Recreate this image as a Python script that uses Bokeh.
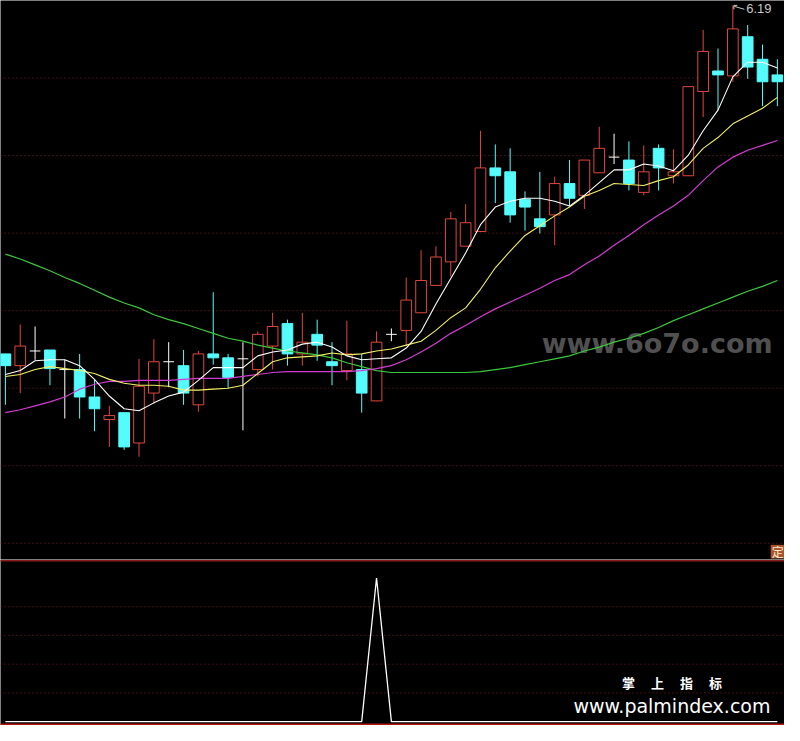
from bokeh.plotting import figure
from bokeh.layouts import column
from bokeh.models import Range1d, Span, ColumnDataSource, Label
from bokeh.core.properties import value
from bokeh.embed import file_html
from bokeh.resources import INLINE

# ---------------- data ----------------
OPEN = [4.41, 4.35, 4.425, 4.43, 4.33, 4.33, 4.19, 4.075, 4.11, 3.955,
        4.21, 4.37, 4.35, 4.15, 4.41, 4.39, 4.385, 4.33, 4.45, 4.565,
        4.41, 4.51, 4.37, 4.325, 4.33, 4.17, 4.51, 4.53, 4.62, 4.76,
        4.88, 4.96, 5.035, 5.36, 5.34, 5.20, 5.10, 5.12, 5.28, 5.22,
        5.335, 5.415, 5.40, 5.235, 5.46, 5.32, 5.32, 5.75, 5.855, 5.83,
        6.03, 5.915, 5.835]
HIGH = [4.41, 4.56, 4.55, 4.43, 4.38, 4.41, 4.28, 4.145, 4.11, 4.385,
        4.485, 4.47, 4.43, 4.425, 4.725, 4.41, 4.47, 4.525, 4.62, 4.585,
        4.62, 4.585, 4.47, 4.58, 4.41, 4.525, 4.54, 4.80, 4.94, 4.96,
        5.135, 5.175, 5.55, 5.48, 5.46, 5.24, 5.34, 5.315, 5.40, 5.40,
        5.57, 5.535, 5.495, 5.475, 5.48, 5.455, 5.775, 6.065, 5.97, 6.19,
        6.09, 5.99, 5.915]
LOW = [4.15, 4.21, 4.38, 4.25, 4.08, 4.08, 4.015, 3.935, 3.92, 3.885,
       4.155, 4.24, 4.15, 4.115, 4.355, 4.235, 4.02, 4.295, 4.33, 4.35,
       4.35, 4.375, 4.25, 4.275, 4.11, 4.17, 4.475, 4.45, 4.62, 4.76,
       4.805, 4.96, 5.035, 5.18, 5.08, 5.04, 5.025, 4.965, 5.165, 5.15,
       5.335, 5.38, 5.245, 5.22, 5.245, 5.28, 5.32, 5.62, 5.655, 5.80,
       5.815, 5.675, 5.675]
CLOSE = [4.35, 4.45, 4.425, 4.335, 4.33, 4.19, 4.13, 4.095, 3.935, 4.245,
         4.37, 4.37, 4.21, 4.41, 4.39, 4.29, 4.385, 4.51, 4.55, 4.41,
         4.47, 4.455, 4.35, 4.41, 4.21, 4.47, 4.51, 4.685, 4.785, 4.905,
         5.10, 5.08, 5.36, 5.32, 5.12, 5.16, 5.06, 5.28, 5.205, 5.40,
         5.46, 5.415, 5.28, 5.34, 5.36, 5.34, 5.775, 5.955, 5.835, 6.07,
         5.875, 5.80, 5.80]

MA5 = [4.305, 4.325, 4.375, 4.38, 4.38, 4.35, 4.28, 4.195, 4.13, 4.12,
       4.16, 4.195, 4.215, 4.275, 4.34, 4.34, 4.34, 4.40, 4.42, 4.43,
       4.46, 4.47, 4.445, 4.40, 4.38, 4.385, 4.39, 4.44, 4.525, 4.665,
       4.795, 4.925, 5.07, 5.16, 5.19, 5.205, 5.205, 5.19, 5.165, 5.22,
       5.285, 5.35, 5.35, 5.38, 5.37, 5.345, 5.425, 5.55, 5.655, 5.825,
       5.90, 5.90, 5.87]
MA10 = [4.295, 4.305, 4.33, 4.345, 4.335, 4.325, 4.31, 4.28, 4.26, 4.25,
        4.25, 4.245, 4.225, 4.225, 4.23, 4.235, 4.25, 4.31, 4.37, 4.39,
        4.395, 4.40, 4.415, 4.405, 4.41, 4.425, 4.435, 4.455, 4.475, 4.53,
        4.595, 4.645, 4.74, 4.85, 4.935, 5.015, 5.065, 5.115, 5.16, 5.215,
        5.245, 5.28, 5.275, 5.27, 5.295, 5.315, 5.375, 5.46, 5.515, 5.585,
        5.625, 5.665, 5.72]
MA20 = [4.11, 4.125, 4.145, 4.165, 4.19, 4.23, 4.255, 4.27, 4.27, 4.275,
        4.275, 4.275, 4.28, 4.285, 4.285, 4.285, 4.295, 4.305, 4.315, 4.32,
        4.32, 4.32, 4.32, 4.32, 4.325, 4.335, 4.35, 4.38, 4.42, 4.465,
        4.515, 4.555, 4.60, 4.64, 4.675, 4.71, 4.745, 4.785, 4.815, 4.865,
        4.91, 4.965, 5.015, 5.07, 5.12, 5.165, 5.22, 5.295, 5.365, 5.415,
        5.45, 5.475, 5.50]
MA60 = [4.92, 4.895, 4.865, 4.835, 4.80, 4.77, 4.735, 4.70, 4.67, 4.645,
        4.61, 4.585, 4.565, 4.54, 4.515, 4.49, 4.475, 4.455, 4.44, 4.425,
        4.415, 4.405, 4.39, 4.365, 4.345, 4.325, 4.315, 4.315, 4.315, 4.315,
        4.315, 4.315, 4.32, 4.33, 4.34, 4.355, 4.37, 4.385, 4.40, 4.425,
        4.445, 4.47, 4.49, 4.515, 4.545, 4.58, 4.61, 4.64, 4.67, 4.70,
        4.73, 4.755, 4.785]
SIGNAL = [0, 0, 0, 0, 0, 0, 0, 0, 0, 0,
          0, 0, 0, 0, 0, 0, 0, 0, 0, 0,
          0, 0, 0, 0, 0, 1, 0, 0, 0, 0,
          0, 0, 0, 0, 0, 0, 0, 0, 0, 0,
          0, 0, 0, 0, 0, 0, 0, 0, 0, 0,
          0, 0, 0]
SIGNAL_GRID = [0.2, 0.4, 0.6, 0.8]

# ---------------- style ----------------
BG = "#000000"
RED = "#E0463C"
CYAN = "#54FCFC"
WHITE = "#FFFFFF"
YELLOW = "#F0F064"
MAGENTA = "#D23CD2"
GREEN = "#3CC83C"
GRIDC = "#7A2020"
BODY_W = 0.72

N = len(CLOSE)
X = list(range(N))
XR = (-0.33, 52.48)
Y_TOP, Y_BOT = 6.215, 3.36
GRID_STEP = 0.396


def make_fig(h, y0, y1):
    f = figure(width=784, height=h, x_range=Range1d(*XR), y_range=Range1d(y0, y1),
               output_backend="svg", toolbar_location=None,
               x_axis_location=None, y_axis_location=None,
               background_fill_color=BG, border_fill_color=BG,
               outline_line_color=None, min_border=0)
    f.xgrid.visible = False
    f.ygrid.visible = False
    return f


# ---------------- main price panel ----------------
p = make_fig(559, Y_BOT, Y_TOP)

for k in range(1, 8):
    p.add_layout(Span(location=Y_TOP - GRID_STEP * k, dimension="width",
                      line_color=GRIDC, line_dash="1 3", line_width=1, level="underlay"))

p.add_layout(Label(x=43.9, y=4.465, text="www.6o7o.com", text_align="center",
                   text_baseline="middle", text_font="DejaVu Sans", text_font_style="bold",
                   text_font_size="27px", text_color="#505050", level="underlay"))


def src(ids):
    return ColumnDataSource(dict(
        x=ids,
        h=[HIGH[i] for i in ids], l=[LOW[i] for i in ids],
        o=[OPEN[i] for i in ids],
        top=[max(OPEN[i], CLOSE[i]) for i in ids],
        bot=[min(OPEN[i], CLOSE[i]) for i in ids],
        xl=[i - BODY_W / 2 for i in ids], xr=[i + BODY_W / 2 for i in ids],
    ))


up = src([i for i in X if CLOSE[i] > OPEN[i]])
dn = src([i for i in X if CLOSE[i] < OPEN[i]])
fl = src([i for i in X if CLOSE[i] == OPEN[i]])

p.segment(x0="x", y0="h", x1="x", y1="l", source=up, line_color=RED, line_width=1)
p.vbar(x="x", width=BODY_W, top="top", bottom="bot", source=up,
       fill_color=BG, line_color=RED, line_width=1)
p.segment(x0="x", y0="h", x1="x", y1="l", source=dn, line_color=CYAN, line_width=1)
p.vbar(x="x", width=BODY_W, top="top", bottom="bot", source=dn,
       fill_color=CYAN, line_color=CYAN, line_width=1)
p.segment(x0="x", y0="h", x1="x", y1="l", source=fl, line_color=WHITE, line_width=1)
p.segment(x0="xl", y0="o", x1="xr", y1="o", source=fl, line_color=WHITE, line_width=1)

p.line(X, MA60, line_color=GREEN, line_width=1.2)
p.line(X, MA20, line_color=MAGENTA, line_width=1.2)
p.line(X, MA10, line_color=YELLOW, line_width=1.1)
p.line(X, MA5, line_color=WHITE, line_width=1.1)

# highest price marker
imax = max(X, key=lambda i: HIGH[i])
hmax = HIGH[imax]
p.line([imax + 0.07, imax + 0.07, imax + 0.3], [hmax - 0.02, hmax, hmax], line_color="#C8C8C8", line_width=1)
p.line([imax + 0.1, imax + 0.78], [hmax - 0.005, hmax - 0.02], line_color="#C8C8C8", line_width=1)
p.text(x=[imax + 0.9], y=[hmax + 0.005], text=["%.2f" % hmax], text_baseline="top",
       text_align="left", text_color="#C8C8C8", text_font_size="13px",
       text_font=value("Liberation Sans"))

# "定" tag at bottom right
p.quad(left=[51.55], right=[52.48], bottom=[3.365], top=[3.435],
       fill_color="#A8552A", line_color=None)
p.text(x=[52.02], y=[3.40], text=["定"], text_align="center", text_baseline="middle",
       text_color="#FFE8D0", text_font_size="12px", text_font=value("Noto Sans CJK SC"))

# ---------------- indicator panel ----------------
q = make_fig(166, -0.027, 1.129)
for g in SIGNAL_GRID:
    q.add_layout(Span(location=g, dimension="width", line_color=GRIDC,
                      line_dash="1 3", line_width=1, level="underlay"))
q.add_layout(Span(location=1.12, dimension="width", line_color="#8C1C1C", line_width=1.6))
q.add_layout(Span(location=-0.02, dimension="width", line_color="#B41414", line_width=2))
q.line(X, SIGNAL, line_color=WHITE, line_width=1.3)

q.add_layout(Label(x=44.9, y=0.272, text="掌　 上　 指　 标", text_align="center",
                   text_baseline="middle", text_font="Noto Sans CJK SC",
                   text_font_style="bold", text_font_size="13px", text_color=WHITE))
q.add_layout(Label(x=44.9, y=0.109, text="www.palmindex.com", text_align="center",
                   text_baseline="alphabetic", text_font="DejaVu Sans",
                   text_font_size="19px", text_color=WHITE))

layout = column(p, q, spacing=0)
open("out.html", "w").write(file_html(layout, INLINE))
